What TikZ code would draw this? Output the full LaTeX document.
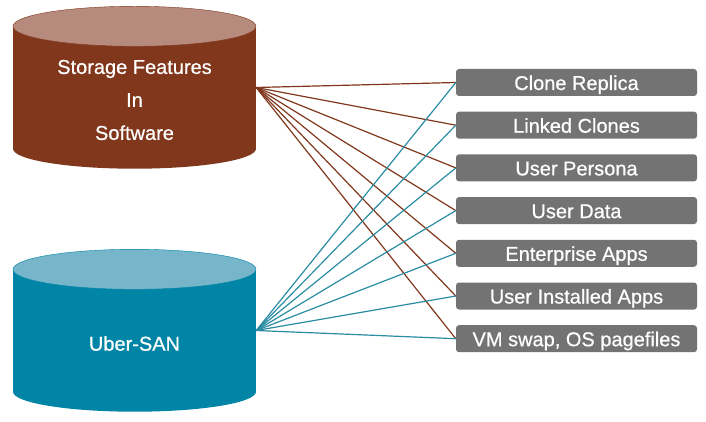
\documentclass[tikz,border=0pt]{standalone}
\usepackage{fontspec}
\setmainfont{Liberation Sans}[BoldFont=Liberation Sans,BoldFeatures={FakeBold=0.6}]
\usepackage{tikz}
\usetikzlibrary{positioning}

\definecolor{rust}{RGB}{128,55,28}
\definecolor{rusttop}{RGB}{182,138,125}
\definecolor{sanblue}{RGB}{0,133,166}
\definecolor{santop}{RGB}{119,181,202}
\definecolor{sanline}{RGB}{42,140,162}
\definecolor{boxgray}{RGB}{115,115,115}

\begin{document}
\begin{tikzpicture}[x=1pt,y=-1pt,
    drum/.style={minimum width=243pt,minimum height=122pt,inner sep=0pt},
    drumtext/.style={text=white,align=center,font=\fontsize{20}{33}\selectfont\bfseries},
    usecase/.style={fill=boxgray,rounded corners=3pt,minimum width=241pt,minimum height=27pt,
      inner sep=0pt,text=white,font=\fontsize{20}{24}\selectfont\bfseries,text height=16pt,text depth=1pt},
    rustlink/.style={draw=rust,line width=1.2pt},
    sanlink/.style={draw=sanline,line width=1.2pt}]
  \useasboundingbox (0,0) rectangle (706,422);
  % storage drums
  \node[drum,fill=rust] (features) at (134.5,87.5) {};
  \fill[rust] (features.south) ellipse[x radius=121.5,y radius=20];
  \filldraw[fill=rusttop,draw=rust] (features.north) ellipse[x radius=121.5,y radius=20];
  \node[drumtext] (features-label) at ([yshift=-12.5pt]features.center) {Storage Features\\In\\Software};
  \node[drum,fill=sanblue] (ubersan) at (134.5,330.5) {};
  \fill[sanblue] (ubersan.south) ellipse[x radius=121.5,y radius=20];
  \filldraw[fill=santop,draw=sanblue] (ubersan.north) ellipse[x radius=121.5,y radius=20];
  \node[drumtext] (ubersan-label) at ([yshift=-13pt]ubersan.center) {Uber-SAN};
  % data types
  \node[usecase] (replica) at (576.5,82.5) {Clone Replica};
  \node[usecase,below=15.3pt of replica] (linked) {Linked Clones};
  \node[usecase,below=15.3pt of linked] (persona) {User Persona};
  \node[usecase,below=15.3pt of persona] (userdata) {User Data};
  \node[usecase,below=15.3pt of userdata] (enterprise) {Enterprise Apps};
  \node[usecase,below=15.3pt of enterprise] (installed) {User Installed Apps};
  \node[usecase,below=15.3pt of installed] (swap) {VM swap, OS pagefiles};
  % links
  \draw[rustlink] (features.east)--(replica.west);
  \draw[rustlink] (features.east)--(linked.west);
  \draw[rustlink] (features.east)--(persona.west);
  \draw[rustlink] (features.east)--(userdata.west);
  \draw[rustlink] (features.east)--(enterprise.west);
  \draw[rustlink] (features.east)--(installed.west);
  \draw[rustlink] (features.east)--(swap.west);
  \draw[sanlink] (ubersan.east)--(replica.west);
  \draw[sanlink] (ubersan.east)--(linked.west);
  \draw[sanlink] (ubersan.east)--(persona.west);
  \draw[sanlink] (ubersan.east)--(userdata.west);
  \draw[sanlink] (ubersan.east)--(enterprise.west);
  \draw[sanlink] (ubersan.east)--(installed.west);
  \draw[sanlink] (ubersan.east)--(swap.west);
\end{tikzpicture}
\end{document}
